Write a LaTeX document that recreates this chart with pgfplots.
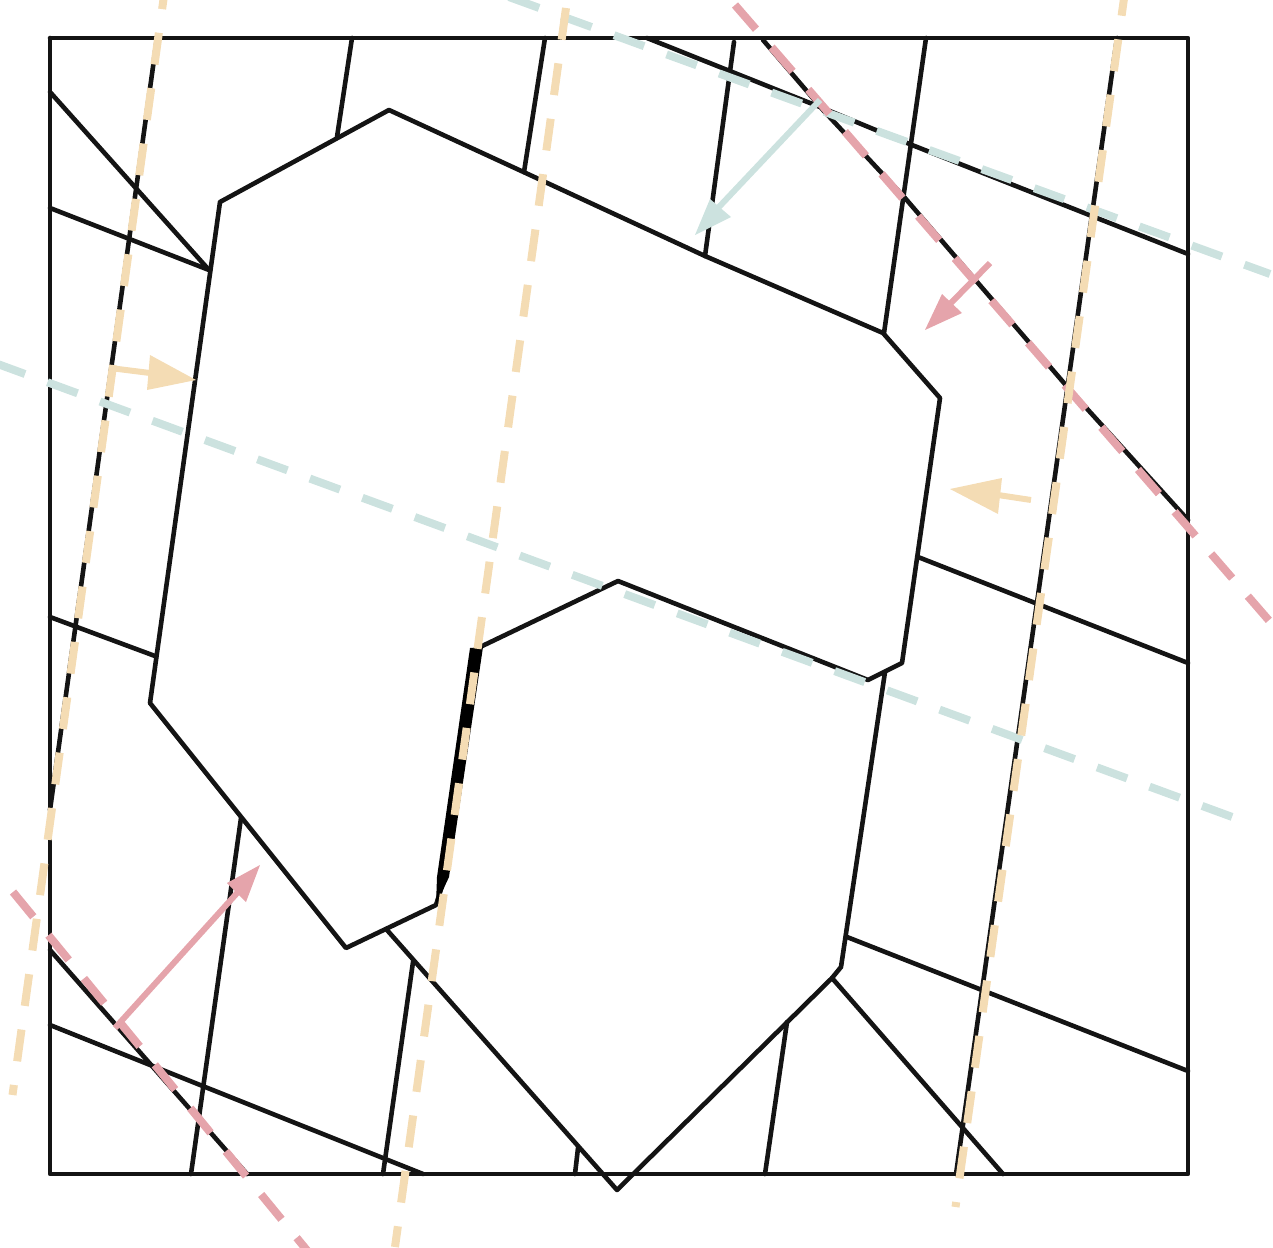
\documentclass[border=0pt]{standalone}
\usepackage{pgfplots}
\pgfplotsset{compat=1.18}
\definecolor{tan1}{HTML}{F4DCB4}
\definecolor{teal1}{HTML}{CCE2DF}
\definecolor{pink1}{HTML}{E5A4AB}
\tikzset{
  blk/.style={black!92,line width=2.3pt,line join=round,line cap=round},
  dsh/.style={line width=4pt,dash pattern=on 16pt off 11.95pt},
  shaft/.style={line width=3pt},
}
\begin{document}
\begin{tikzpicture}
\path[use as bounding box] (0,0) rectangle (636.5pt,623.5pt);
\begin{axis}[at={(0,0)},anchor=south west,scale only axis,width=636.5pt,height=623.5pt,
  xmin=0,xmax=1273,ymin=0,ymax=1247,y dir=reverse,hide axis]
% frame
\addplot[blk] coordinates {(50,38)(1188,38)(1188,1174)(50,1174)(50,38)};
% upper polygon
\addplot[blk] coordinates {(220,202)(389,110)(530,175)(705,256)(883,333)(940,398)(902,663)(868,680)(618,581)(478,648)(447,870)(436,905)(346,948)(150,703)(220,202)};
% lower polygon
\addplot[blk] coordinates {(387,930)(617,1190)(832,978)(841,967)(885,672)};
% thick edge
\addplot[fill=black,draw=none] coordinates {(470,648)(483,647)(449,877)(436,905)(437,877)};
% interior
\addplot[blk] coordinates {(352,38)(337,137)};
\addplot[blk] coordinates {(545,38)(524,172)};
\addplot[blk] coordinates {(734,42)(705,256)};
\addplot[blk] coordinates {(926,38)(884,333)};
\addplot[blk] coordinates {(50,92)(209,270)};
\addplot[blk] coordinates {(50,208)(209,270)};
\addplot[blk] coordinates {(50,617)(155,656)};
\addplot[blk] coordinates {(241,818)(191,1174)};
\addplot[blk] coordinates {(50,950)(247,1174)};
\addplot[blk] coordinates {(50,1025)(423,1174)};
\addplot[blk] coordinates {(413,962)(383,1174)};
\addplot[blk] coordinates {(578,1148)(575,1174)};
\addplot[blk] coordinates {(787,1022)(765,1174)};
\addplot[blk] coordinates {(832,978)(1003,1174)};
\addplot[blk] coordinates {(847,937)(1188,1071)};
\addplot[blk] coordinates {(918,557)(1188,663)};
\addplot[blk] coordinates {(647,38)(820,107)(912,145)(1188,254)};
\addplot[blk] coordinates {(763,40)(823,110)(905,198)(978,283)(1070,390)(1188,520)};
\addplot[blk] coordinates {(157,38)(50,810)};
\addplot[blk] coordinates {(1117,38)(956,1174)};
% dashed teal
\addplot[teal1,dsh] coordinates {(509,-3)(1270,274)};
\addplot[teal1,dsh] coordinates {(-5,363)(1235,818)};
% dashed pink
\addplot[pink1,dsh] coordinates {(735,5)(1272,624)};
\addplot[pink1,dsh] coordinates {(13,892)(310,1254)};
% dashed tan
\addplot[tan1,dsh] coordinates {(166.5,-22.6)(12.5,1095)};
\addplot[tan1,dsh] coordinates {(566,8)(395,1247)};
\addplot[tan1,dsh] coordinates {(1126,-16)(955.5,1207)};
% arrows
\addplot[teal1,shaft] coordinates {(820,100)(718,208)};
\addplot[fill=teal1,draw=none] coordinates {(695,235)(710,199)(731,217)};
\addplot[pink1,shaft] coordinates {(990,263)(950,304)};
\addplot[fill=pink1,draw=none] coordinates {(925,330)(942,294)(962,313)};
\addplot[pink1,shaft] coordinates {(115,1028)(238,892)};
\addplot[fill=pink1,draw=none] coordinates {(260,865)(227,883)(246,902)};
\addplot[tan1,shaft] coordinates {(1031,500)(998,495)};
\addplot[fill=tan1,draw=none] coordinates {(950,489)(1002,478)(998,514)};
\addplot[tan1,shaft] coordinates {(110,368)(150,373)};
\addplot[fill=tan1,draw=none] coordinates {(196,380)(150,355)(147,390)};
\end{axis}
\end{tikzpicture}
\end{document}
